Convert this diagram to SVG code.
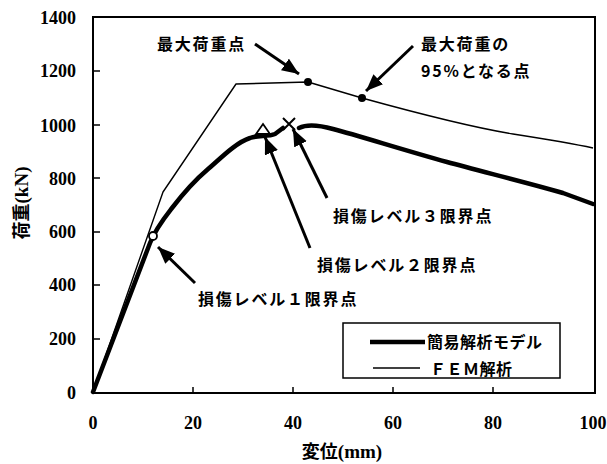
<svg xmlns="http://www.w3.org/2000/svg" width="607" height="464" viewBox="0 0 607 464">
<style>
.num{font-family:"Liberation Serif",serif;font-weight:bold;font-size:18px;fill:#000}
.jp{font-family:"Noto Sans CJK JP",sans-serif;font-weight:bold;font-size:16px;fill:#000;letter-spacing:1.8px}
.ttl{font-family:"Noto Sans CJK JP",serif;font-weight:bold;font-size:18px;fill:#000}
.ser{font-family:"Liberation Serif",serif;font-weight:bold}
.frame{fill:none;stroke:#000;stroke-width:2}
.tick{stroke:#000;stroke-width:1.5}
.fem{fill:none;stroke:#000;stroke-width:1.4;stroke-linejoin:round}
.simp{fill:none;stroke:#000;stroke-width:4.5;stroke-linejoin:round;stroke-linecap:round}
.arr{stroke:#000;stroke-width:3;marker-end:url(#ah)}
</style>
<defs>
<marker id="ah" markerUnits="userSpaceOnUse" markerWidth="20" markerHeight="16" refX="17" refY="7" orient="auto">
<path d="M0,0 L17,7 L0,14 Z" fill="#000"/>
</marker>
</defs>
<rect width="607" height="464" fill="#fff"/>
<g id="axes">
<rect class="frame" x="93" y="17" width="502" height="376"/>
<g class="tick">
<line x1="93" y1="71" x2="100" y2="71"/><line x1="93" y1="125" x2="100" y2="125"/>
<line x1="93" y1="178" x2="100" y2="178"/><line x1="93" y1="232" x2="100" y2="232"/>
<line x1="93" y1="285" x2="100" y2="285"/><line x1="93" y1="339" x2="100" y2="339"/>
<line x1="193" y1="393" x2="193" y2="387"/><line x1="293" y1="393" x2="293" y2="387"/>
<line x1="393" y1="393" x2="393" y2="387"/><line x1="493" y1="393" x2="493" y2="387"/>
</g>
<g class="num" text-anchor="end">
<text x="76" y="24">1400</text><text x="76" y="77">1200</text><text x="76" y="132">1000</text>
<text x="76" y="185">800</text><text x="76" y="238">600</text><text x="76" y="291">400</text>
<text x="76" y="345">200</text><text x="76" y="399">0</text>
</g>
<g class="num" text-anchor="middle">
<text x="93" y="429">0</text><text x="193" y="429">20</text><text x="293" y="429">40</text>
<text x="393" y="429">60</text><text x="493" y="429">80</text><text x="593" y="429">100</text>
</g>
<text class="ttl" x="342" y="458" text-anchor="middle">変位<tspan class="ser" font-size="19">(mm)</tspan></text>
<text class="ttl" transform="translate(28,203) rotate(-90)" text-anchor="middle">荷重<tspan class="ser" font-size="19">(kN)</tspan></text>
</g>
<g id="fem-curve">
<path class="fem" d="M93,392 L163,192 L236,84 L308,82 L362,98 C420,114 470,127 513,134 C545,139 570,143 593,148"/>
<circle cx="308" cy="82" r="4" fill="#000"/>
<circle cx="362" cy="98" r="4" fill="#000"/>
</g>
<g id="simple-curve">
<path class="simp" d="M93,392 L150,243 C156,228 165,217 172,208 C182,195 194,181 207,170 C220,159 235,143 250,138 C258,135 268,137 275,134 L283,128"/>
<path class="simp" d="M299,128 C305,125 315,124 333,129 C360,136 400,149 447,162 C480,171 540,186 563,193 L593,204"/>
<circle cx="153" cy="236" r="4" fill="#fff" stroke="#000" stroke-width="1.8"/>
<path d="M263,124 L270,134 L256,134 Z" fill="#fff" stroke="#000" stroke-width="1.8"/>
<path d="M283,118 L295,130 M295,118 L283,130" stroke="#000" stroke-width="2"/>
</g>
<g id="connectors">
<line class="arr" x1="255" y1="44" x2="299" y2="74"/>
<line class="arr" x1="413" y1="46" x2="366" y2="91"/>
<line class="arr" x1="310" y1="248" x2="265" y2="137"/>
<line class="arr" x1="327" y1="198" x2="293" y2="129"/>
<line class="arr" x1="195" y1="283" x2="158" y2="247"/>
</g>
<g id="labels">
<text class="jp" x="157" y="50">最大荷重点</text>
<text class="jp" x="421" y="50">最大荷重の</text>
<text class="jp" x="421" y="77">95%となる点</text>
<text class="jp" x="333" y="222">損傷レベル３限界点</text>
<text class="jp" x="317" y="271">損傷レベル２限界点</text>
<text class="jp" x="198" y="305">損傷レベル１限界点</text>
</g>
<g id="legend">
<rect x="343" y="323" width="217" height="55" fill="#fff" stroke="#000" stroke-width="1.5"/>
<line x1="370" y1="342" x2="425" y2="342" stroke="#000" stroke-width="4.5"/>
<text class="jp" x="427" y="348" style="letter-spacing:0.5px">簡易解析モデル</text>
<line x1="373" y1="368" x2="420" y2="368" stroke="#000" stroke-width="1.4"/>
<text class="jp" x="430" y="375" style="letter-spacing:0.5px">ＦＥＭ解析</text>
</g>
</svg>
